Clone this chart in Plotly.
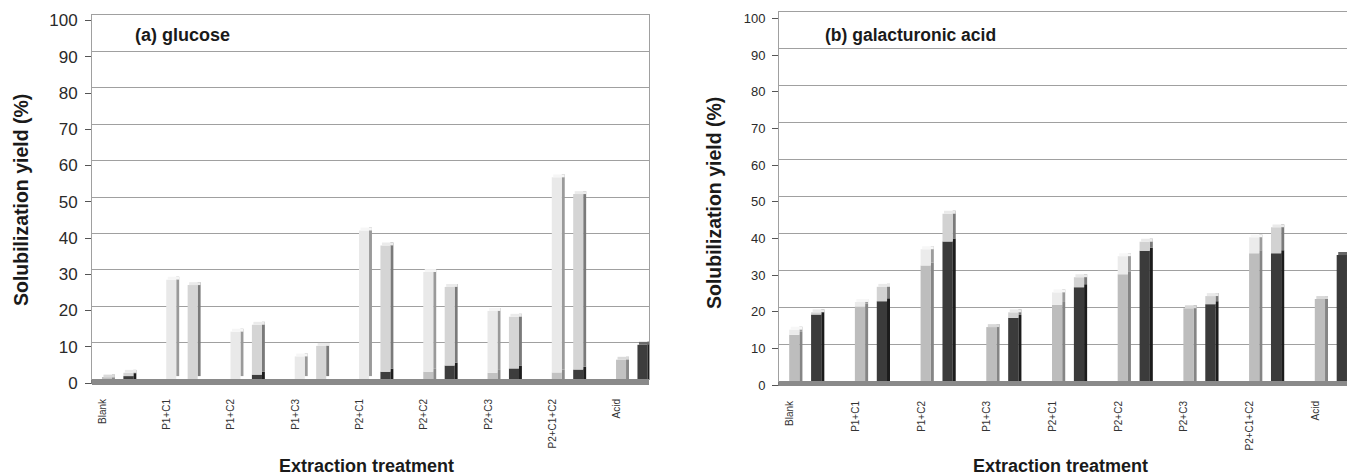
import plotly.graph_objects as go

W, H = 1347, 475

# ---------------- data ----------------
treatments = ["Blank", "P1+C1", "P1+C2", "P1+C3", "P2+C1", "P2+C2", "P2+C3", "P2+C1+C2", "Acid"]
y_tick_values = list(range(0, 101, 10))

# (a) glucose : lower (darker) and upper (lighter) segment of each bar
glc_left_lower = [0.4, 0.0, 0.0, 0.0, 0.0, 2.0, 1.7, 1.8, 5.3]
glc_left_upper = [0.0, 27.3, 13.0, 6.2, 40.8, 27.4, 17.0, 53.6, 0.0]
glc_right_lower = [0.8, 0.0, 1.2, 0.0, 2.0, 3.7, 2.9, 2.6, 9.4]
glc_right_upper = [0.9, 25.8, 13.7, 9.1, 34.7, 21.6, 14.2, 48.2, 0.0]

# (b) galacturonic acid
gal_left_lower = [12.5, 20.2, 31.3, 14.6, 20.6, 28.9, 19.7, 34.6, 22.2]
gal_left_upper = [1.4, 1.2, 4.4, 0.0, 3.4, 4.9, 0.0, 4.3, 0.0]
gal_right_lower = [18.0, 21.6, 37.8, 17.1, 25.4, 35.3, 20.8, 34.6, 34.1]
gal_right_upper = [0.6, 3.9, 7.5, 1.5, 2.7, 2.4, 2.2, 7.0, 0.0]

# ---------------- styling ----------------
FONT = "Arial, Liberation Sans, sans-serif"
BAR_W = 0.47      # front face width (slot units)
SIDE_W = 0.14     # 3D side face width
DEPTH = 0.8       # 3D cap height (value units)
SHIFT = 0.2       # 3D depth shift of the bars to the right (slot units)
GRID = "#a0a0a0"
AXIS = "#7a7a7a"
FLOOR = "#8a8a8a"


def px_x(p):
    return p / W


def px_y(p):
    return 1 - p / H


panels = [
    dict(  # (a) glucose
        xa="x", ya="y", xw="x3", yw="y3", xl="x5",
        x_front=(92, 649), slot_px=21.42,
        y_ticks=(383, 20.5), y_wall=(379, 15),
        floor=(379, 385), slot_tick_level=-2.5,
        tickfont=17, mirror_right=True,
        left=(glc_left_lower, glc_left_upper), right=(glc_right_lower, glc_right_upper),
        left_cols=dict(lower="#c2c2c2", upper="#ececec", side_l="#8a8a8a", side_u="#9a9a9a",
                       cap_l="#dadada", cap_u="#f6f6f6"),
        right_cols=dict(lower="#3d3d3d", upper="#d6d6d6", side_l="#1e1e1e", side_u="#7a7a7a",
                        cap_l="#6a6a6a", cap_u="#ebebeb"),
        title="(a) glucose", title_pos=(133, 35), title_size=18,
        ytitle_pos=(21, 200), xtitle_pos=(366, 466),
    ),
    dict(  # (b) galacturonic acid
        xa="x2", ya="y2", xw="x4", yw="y4", xl="x6",
        x_front=(779, 1347), slot_px=21.9,
        y_ticks=(385, 18.4), y_wall=(381, 11.7),
        floor=(381, 386), slot_tick_level=-2.3,
        tickfont=13, mirror_right=False,
        left=(gal_left_lower, gal_left_upper), right=(gal_right_lower, gal_right_upper),
        left_cols=dict(lower="#bdbdbd", upper="#eeeeee", side_l="#858585", side_u="#9c9c9c",
                       cap_l="#d8d8d8", cap_u="#f7f7f7"),
        right_cols=dict(lower="#3b3b3b", upper="#d3d3d3", side_l="#1c1c1c", side_u="#7a7a7a",
                        cap_l="#666666", cap_u="#eaeaea"),
        title="(b) galacturonic acid", title_pos=(823, 35), title_size=17.5,
        ytitle_pos=(714, 203), xtitle_pos=(1060, 466),
    ),
]

fig = go.Figure()
layout = dict(
    width=W, height=H, margin=dict(l=0, r=0, t=0, b=0, autoexpand=False),
    paper_bgcolor="white", plot_bgcolor="rgba(0,0,0,0)",
    barmode="overlay", showlegend=False, font=dict(family=FONT, color="#2a2a2a"),
    shapes=[], annotations=[],
)


def add_bars(p, slot, lower, upper, cols):
    x = [3 * i + slot for i in range(len(treatments))]
    total = [l + u for l, u in zip(lower, upper)]
    common = dict(x=x, xaxis=p["xw"], yaxis=p["yw"], hoverinfo="skip",
                  marker_line_width=0)
    front = -BAR_W / 2 + SHIFT
    side = BAR_W / 2 + SHIFT - 0.005
    # side faces
    fig.add_trace(go.Bar(y=[l + DEPTH if l > 0 else 0 for l in lower], base=[0] * len(x),
                         offset=side, width=SIDE_W,
                         marker_color=cols["side_l"], **common))
    fig.add_trace(go.Bar(y=upper, base=[l + DEPTH for l in lower],
                         offset=side, width=SIDE_W,
                         marker_color=cols["side_u"], **common))
    # front faces
    fig.add_trace(go.Bar(y=lower, base=[0] * len(x), offset=front, width=BAR_W,
                         marker_color=cols["lower"], **common))
    fig.add_trace(go.Bar(y=upper, base=lower, offset=front, width=BAR_W,
                         marker=dict(color=cols["upper"], line_width=0,
                                     pattern=dict(shape="-", size=2, solidity=0.2,
                                                  fgcolor="#c4c4c4", bgcolor=cols["upper"],
                                                  fgopacity=0.35)),
                         x=x, xaxis=p["xw"], yaxis=p["yw"], hoverinfo="skip"))
    # top caps
    fig.add_trace(go.Bar(y=[DEPTH if t > 0.3 else 0 for t in total], base=total,
                         offset=front + SIDE_W * 0.5, width=BAR_W + SIDE_W * 0.45,
                         marker_color=[cols["cap_u"] if u > 0 else cols["cap_l"] for u in upper],
                         **common))


for k, p in enumerate(panels):
    n = "" if k == 0 else "2"
    nw = "3" if k == 0 else "4"
    nl = "5" if k == 0 else "6"
    fx0, fx1 = p["x_front"]
    nslots = (fx1 - fx0) / p["slot_px"]

    # floor band (drawn above so that it hides the upper part of the slot ticks)
    f0, f1 = p["floor"]
    layout["shapes"].append(dict(
        type="rect", xref="paper", yref="paper", x0=px_x(fx0), x1=px_x(fx1),
        y0=px_y(f1), y1=px_y(f0), fillcolor=FLOOR, line_width=0, layer="above"))

    # back wall: gridlines, bars
    wb, wt = p["y_wall"]
    layout["xaxis" + nw] = dict(
        domain=[px_x(fx0), px_x(fx1)], range=[-0.5, -0.5 + nslots], anchor="y" + nw,
        automargin=False,
        showgrid=False, zeroline=False, showticklabels=False, ticks="",
        showline=True, mirror=True, linecolor=GRID, linewidth=1.3,
    )
    layout["yaxis" + nw] = dict(
        domain=[px_y(wb), px_y(wt)], range=[0, 100], anchor="x" + nw,
        automargin=False,
        tickmode="array", tickvals=y_tick_values, showticklabels=False, ticks="",
        showgrid=True, gridcolor=GRID, gridwidth=1.3, zeroline=False,
        showline=True, mirror=p["mirror_right"], linecolor=GRID, linewidth=1.3,
    )
    add_bars(p, 0, p["left"][0], p["left"][1], p["left_cols"])
    add_bars(p, 1, p["right"][0], p["right"][1], p["right_cols"])

    # slot separator tick marks below the floor (one at every slot boundary)
    boundaries = [b - 0.5 for b in range(int(round(nslots)) + 1) if b - 0.5 <= nslots - 0.5]
    fig.add_trace(go.Scatter(
        x=boundaries, y=[p["slot_tick_level"]] * len(boundaries),
        xaxis=p["xw"], yaxis=p["yw"], mode="markers", cliponaxis=False,
        marker=dict(symbol="line-ns", size=9, color="#444444",
                    line=dict(width=1.2, color="#444444")),
        hoverinfo="skip", showlegend=False))

    # front axis line
    layout["xaxis" + n] = dict(
        domain=[px_x(fx0), px_x(fx1)], range=[-0.5, -0.5 + nslots], anchor="y" + n,
        automargin=False,
        showgrid=False, zeroline=False, showline=True, linecolor=AXIS, linewidth=1,
        showticklabels=False, ticks="",
    )
    # overlaid axis carrying the category labels
    layout["xaxis" + nl] = dict(
        overlaying="x" + n, anchor="y" + n, side="bottom",
        range=[-0.5, -0.5 + nslots], automargin=False,
        showgrid=False, zeroline=False, showline=False,
        tickmode="array", tickvals=[3 * i for i in range(len(treatments))],
        ticktext=treatments, tickangle=-90, ticks="", ticklabelstandoff=13,
        tickfont=dict(size=10, color="#333333", family=FONT),
    )
    yb, yt = p["y_ticks"]
    layout["yaxis" + n] = dict(
        domain=[px_y(yb), px_y(yt)], range=[0, 100], anchor="x" + n,
        automargin=False,
        tickmode="array", tickvals=y_tick_values, ticks="outside", ticklen=6,
        tickcolor="#555555", showgrid=False, zeroline=False, showline=True,
        linecolor=AXIS, ticklabelstandoff=4,
        tickfont=dict(size=p["tickfont"], color="#2a2a2a", family=FONT),
    )
    # empty traces so that the front axes are drawn
    fig.add_trace(go.Scatter(x=[], y=[], xaxis=p["xa"], yaxis=p["ya"], mode="markers",
                             hoverinfo="skip", showlegend=False))
    fig.add_trace(go.Scatter(x=[], y=[], xaxis=p["xl"], yaxis=p["ya"], mode="markers",
                             hoverinfo="skip", showlegend=False))

    tx, ty = p["title_pos"]
    layout["annotations"].append(dict(
        text="<b>" + p["title"] + "</b>", x=px_x(tx), y=px_y(ty), xref="paper", yref="paper",
        xanchor="left", yanchor="middle", showarrow=False,
        font=dict(size=p["title_size"], color="#1a1a1a", family=FONT)))
    yx, yy = p["ytitle_pos"]
    layout["annotations"].append(dict(
        text="<b>Solubilization yield (%)</b>", x=px_x(yx), y=px_y(yy), xref="paper",
        yref="paper", xanchor="center", yanchor="middle", textangle=-90, showarrow=False,
        font=dict(size=19.5, color="#1a1a1a", family=FONT)))
    xx, xy = p["xtitle_pos"]
    layout["annotations"].append(dict(
        text="<b>Extraction treatment</b>", x=px_x(xx), y=px_y(xy), xref="paper",
        yref="paper", xanchor="center", yanchor="middle", showarrow=False,
        font=dict(size=18, color="#1a1a1a", family=FONT)))

fig.update_layout(**layout)
fig.write_html("out.html")
